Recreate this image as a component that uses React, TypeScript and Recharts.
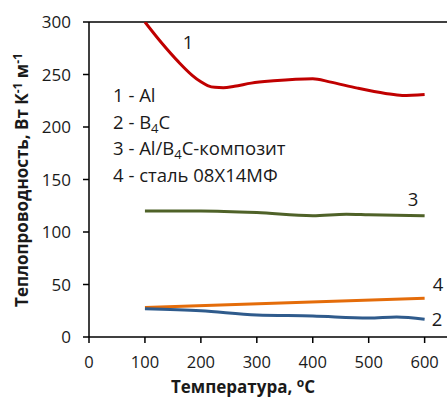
import React from "react";
import { LineChart, Line, XAxis, YAxis, ReferenceLine, Customized } from "recharts";

const xTicks = [0, 100, 200, 300, 400, 500, 600];
const yTicks = [0, 50, 100, 150, 200, 250, 300];

const alT = [100, 130, 160, 185, 200, 212, 225, 240, 260, 290, 330, 400, 430, 480, 530, 560, 600];
const alV = [300, 280, 262, 249, 243, 239.5, 237.8, 237.5, 238.8, 241.8, 244, 246, 243, 237, 232, 230, 231];

const b4cT = [100, 200, 300, 400, 500, 550, 600];
const b4cV = [27, 25, 21, 20, 18, 19, 17];

const compT = [100, 200, 300, 400, 460, 500, 600];
const compV = [120, 120, 118.5, 115.5, 117, 116.5, 115.5];

const steelT = [100, 600];
const steelV = [28, 37];

const legendRows = ["1 - Al", "2 - B4C", "3 - Al/B4C-композит", "4 - сталь 08Х14МФ"];
const curveLabels = ["1", "2", "3", "4"];

const mk = (t: number[], v: number[]) => t.map((x, i) => ({ t: x, v: v[i] }));

const FONT = "'Open Sans', 'Noto Sans', sans-serif";
const TXT = "#1a1a1a";

function renderRich(s: string) {
  const parts = s.split("B4C");
  if (parts.length === 1) return s;
  return (
    <>
      {parts[0]}B
      <tspan dy={4} fontSize={13}>4</tspan>
      <tspan dy={-4}>C</tspan>
      {parts[1]}
    </>
  );
}

const Annotations = () => (
  <g fontFamily={FONT} fill={TXT}>
    {legendRows.map((r, i) => (
      <text key={r} x={113} y={102 + i * 26.7} fontSize={18.5} fill={TXT}>
        {renderRich(r)}
      </text>
    ))}
    <text x={188} y={49} fontSize={18.5} textAnchor="middle" fill={TXT}>{curveLabels[0]}</text>
    <text x={437} y={326} fontSize={18.5} textAnchor="middle" fill={TXT}>{curveLabels[1]}</text>
    <text x={413} y={206} fontSize={18.5} textAnchor="middle" fill={TXT}>{curveLabels[2]}</text>
    <text x={438} y={291} fontSize={18.5} textAnchor="middle" fill={TXT}>{curveLabels[3]}</text>
    <text
      transform="translate(28,180) rotate(-90)"
      textAnchor="middle"
      fontSize={17}
      fontWeight="bold"
      fill={TXT}
    >
      Теплопроводность, Вт К<tspan dy={-6} fontSize={12}>-1</tspan>
      <tspan dy={6}> м</tspan>
      <tspan dy={-6} fontSize={12}>-1</tspan>
    </text>
    <text x={243} y={393} textAnchor="middle" fontSize={17} fontWeight="bold" fill={TXT}>
      Температура, <tspan dy={-6} fontSize={12}>o</tspan>
      <tspan dy={6}>C</tspan>
    </text>
  </g>
);

export default function App() {
  return (
    <div style={{ position: "absolute", left: 0, top: 0, width: 447, height: 397, background: "#fff" }}>
      <LineChart width={447} height={397} margin={{ top: 22, right: 0, bottom: 0, left: 0 }}>
        <XAxis
          type="number"
          dataKey="t"
          domain={[0, 640]}
          ticks={xTicks}
          allowDataOverflow
          height={60}
          tickSize={6}
          tickMargin={13}
          stroke="#000"
          strokeWidth={1.5}
          tick={{ fontSize: 16.5, fontFamily: FONT, fill: TXT }}
        />
        <YAxis
          type="number"
          domain={[0, 300]}
          ticks={yTicks}
          allowDataOverflow
          width={89}
          tickSize={6}
          tickMargin={12}
          stroke="#000"
          strokeWidth={1.5}
          tick={{ fontSize: 17, fontFamily: FONT, fill: TXT }}
        />
        <ReferenceLine y={300} stroke="#000" strokeWidth={1.5} />
        <Line data={mk(alT, alV)} dataKey="v" type="monotone" stroke="#C00000" strokeWidth={3} dot={false} isAnimationActive={false} />
        <Line data={mk(compT, compV)} dataKey="v" type="monotone" stroke="#4F6228" strokeWidth={3} dot={false} isAnimationActive={false} />
        <Line data={mk(steelT, steelV)} dataKey="v" type="monotone" stroke="#E46C0A" strokeWidth={3} dot={false} isAnimationActive={false} />
        <Line data={mk(b4cT, b4cV)} dataKey="v" type="monotone" stroke="#2F5B8C" strokeWidth={3} dot={false} isAnimationActive={false} />
        <Customized component={Annotations} />
      </LineChart>
    </div>
  );
}
